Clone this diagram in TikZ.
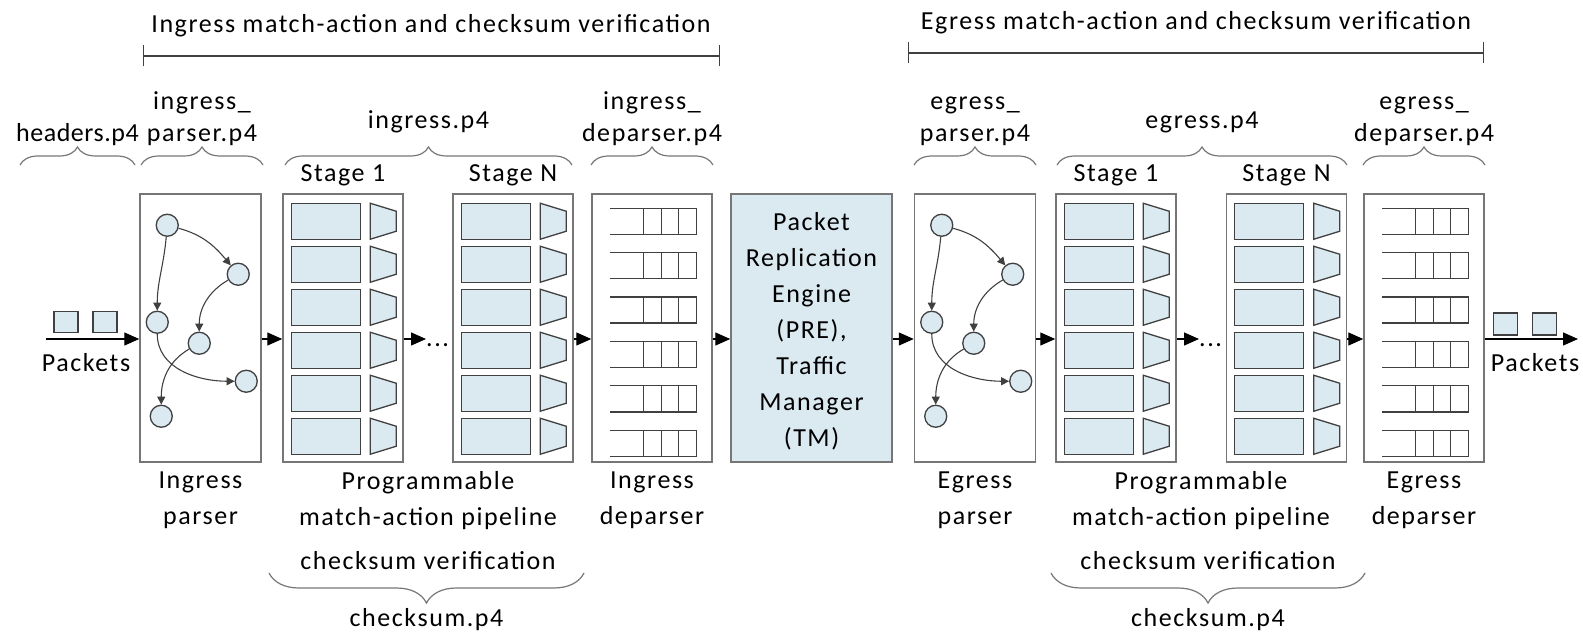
\documentclass[tikz,border=0pt]{standalone}
\usepackage{fontspec}
\setmainfont{Carlito}[LetterSpace=6]
\usetikzlibrary{positioning,arrows.meta,decorations.pathreplacing}

\definecolor{cellblue}{RGB}{219,233,241}
\definecolor{boxgray}{RGB}{118,118,118}
\definecolor{darkline}{RGB}{64,64,64}

\tikzset{
  block/.style={draw=boxgray, line width=1.5pt, minimum width=121pt, minimum height=268pt, inner sep=0pt},
  cell/.style={draw=darkline, line width=1.3pt, fill=cellblue},
  qline/.style={draw=darkline, line width=1.3pt},
  pkt/.style={cell, minimum width=24pt, minimum height=21pt, inner sep=0pt},
  pstate/.style={circle, cell, minimum size=22pt, inner sep=0pt},
  trans/.style={draw=darkline, line width=1.1pt, -{Triangle[length=8pt,width=8pt]}},
  flow/.style={line width=1.4pt, -{Triangle[length=15pt,width=13pt]}},
  pbrace/.style={draw=boxgray, line width=1.2pt, decorate, decoration={brace, amplitude=#1}},
  spanline/.style={draw=darkline, line width=1.3pt, {Bar[width=21pt]}-{Bar[width=21pt]}},
  lbl/.style={inner sep=0pt, align=center},
  toplbl/.style={lbl, font=\fontsize{26}{32}\selectfont},
}

\begin{document}
\begin{tikzpicture}[x=1pt, y=1pt, font=\fontsize{26}{36}\selectfont]
\useasboundingbox (0,0) rectangle (1583,-636);

% pipeline blocks
\node[block] (ipars) at (200.5,-328) {};
\node[block, minimum width=120pt] (istg1) at (343,-328) {};
\node[block, minimum width=120pt] (istgN) at (513,-328) {};
\node[block, minimum width=120pt] (idep) at (652,-328) {};
\node[block, fill=cellblue, minimum width=161pt, align=center] (pre) at (811.5,-328)
  {\rule{0pt}{24pt}Packet\\Replication\\Engine\\(PRE),\\Traffic\\Manager\\(TM)};
\node[block] (epars) at (975,-328) {};
\node[block, minimum width=120pt] (estg1) at (1116,-328) {};
\node[block, minimum width=120pt] (estgN) at (1286.5,-328) {};
\node[block, minimum width=120pt] (edep) at (1424,-328) {};

% match-action tables and actions
\foreach \s in {istg1,istgN,estg1,estgN}
  \foreach \r in {0,...,5}{
    \draw[cell] ([shift={(9,-10-43*\r)}]\s.north west) rectangle ++(69,-36);
    \draw[cell] ([shift={(88,-10-43*\r)}]\s.north west) -- ++(26,-8) -- ++(0,-20) -- ++(-26,-8) -- cycle;
  }

% deparser queues
\foreach \d in {idep,edep}
  \foreach \r in {0,...,5}{
    \draw[qline] ([shift={(19,-15-44.4*\r)}]\d.north west) -- ++(86,0) -- ++(0,-26) -- ++(-86,0);
    \foreach \v in {52,70,87}
      \draw[qline] ([shift={(\v,-15-44.4*\r)}]\d.north west) -- ++(0,-26);
  }

% parse graphs
\foreach \p in {ipars,epars}{
  \foreach \n/\dx/\dy in {1/28/32,2/99/81,3/18/129,4/60/150,5/107/188,6/22/223}
    \node[pstate] (\p\n) at ([shift={(\dx,-\dy)}]\p.north west) {};
  \draw[trans] (\p1) to[out=-15,in=130] (\p2);
  \draw[trans] (\p1) to[out=-95,in=90] (\p3);
  \draw[trans] (\p2) to[out=210,in=90] (\p4);
  \draw[trans] (\p3) to[out=-90,in=180] (\p5);
  \draw[trans] (\p4) to[out=210,in=90] (\p6);
}

% packets in and out
\coordinate (pin) at (46,-339);
\coordinate (pout) at (1578,-339);
\node[pkt] (pkt1) at (66,-322) {};
\node[pkt] (pkt2) at (105,-322) {};
\node[pkt, minimum height=22pt] (pkt3) at (1505.5,-324) {};
\node[pkt, minimum height=22pt] (pkt4) at (1544.5,-324) {};
\node[lbl, anchor=base] (inlbl) at (86,-372) {Packets};
\node[lbl, anchor=base] (outlbl) at (1535,-371) {Packets};

\node[lbl, anchor=base west] (idots) at (426,-347) {...};
\node[lbl, anchor=base west] (edots) at (1199,-347) {...};

% flow between blocks
\draw[flow] (pin) -- (ipars.west |- pin);
\draw[flow] (ipars.east |- pin) -- (istg1.west |- pin);
\draw[flow] (istg1.east |- pin) -- (idots.west |- pin);
\draw[flow] (istgN.east |- pin) -- (idep.west |- pin);
\draw[flow] (idep.east |- pin) -- (pre.west |- pin);
\draw[flow] (pre.east |- pin) -- (epars.west |- pin);
\draw[flow] (epars.east |- pin) -- (estg1.west |- pin);
\draw[flow] (estg1.east |- pin) -- (edots.west |- pin);
\draw[flow] (estgN.east |- pin) -- (edep.west |- pin);
\draw[flow] (edep.east |- pin) -- (pout);

% stage names
\node[lbl, above=7pt of istg1] (istg1lbl) {Stage 1};
\node[lbl, above=7pt of istgN] (istgNlbl) {Stage N};
\node[lbl, above=7pt of estg1] (estg1lbl) {Stage 1};
\node[lbl, above=7pt of estgN] (estgNlbl) {Stage N};

% source files
\draw[pbrace=18pt] (20,-165) -- (135,-165) node[toplbl, midway, above=19pt] {\addfontfeatures{LetterSpace=2}headers.p4};
\draw[pbrace=18pt] (141,-165) -- (263,-165) node[toplbl, midway, above=19pt] {ingress\_\\parser.p4};
\draw[pbrace=18pt] (285,-165) -- (572,-165) node[toplbl, midway, above=31pt] {ingress.p4};
\draw[pbrace=18pt] (591,-165) -- (713,-165) node[toplbl, midway, above=19pt] {ingress\_\\deparser.p4};
\draw[pbrace=18pt] (914,-165) -- (1036,-165) node[toplbl, midway, above=19pt] {egress\_\\parser.p4};
\draw[pbrace=18pt] (1057,-165) -- (1347,-165) node[toplbl, midway, above=31pt] {egress.p4};
\draw[pbrace=18pt] (1363,-165) -- (1485,-165) node[toplbl, midway, above=19pt] {egress\_\\deparser.p4};

% ingress / egress spans
\node[lbl, anchor=base] (ititle) at (431,-33) {Ingress match-action and checksum verification};
\draw[spanline] (143,-56) -- (720,-56);
\node[lbl, anchor=base] (etitle) at (1196,-30) {Egress match-action and checksum verification};
\draw[spanline] (908,-53) -- (1484,-53);

% block names
\coordinate (iprog) at (428,-462);
\coordinate (eprog) at (1201,-462);
\node[lbl, below=9pt of ipars] (iparslbl) {Ingress\\parser};
\node[lbl, below=9pt of iprog] (iproglbl) {Programmable\\match-action pipeline};
\node[lbl, below=9pt of idep] (ideplbl) {Ingress\\deparser};
\node[lbl, below=9pt of epars] (eparslbl) {Egress\\parser};
\node[lbl, below=9pt of eprog] (eproglbl) {Programmable\\match-action pipeline};
\node[lbl, below=9pt of edep] (edeplbl) {Egress\\deparser};

% checksum
\node[lbl, anchor=base] (icsum) at (428,-569) {checksum verification};
\draw[pbrace=30pt] (584,-573) -- (269,-573) node[lbl, midway, below=35pt] {checksum.p4};
\node[lbl, anchor=base] (ecsum) at (1208,-569) {checksum verification};
\draw[pbrace=30pt] (1365,-573) -- (1051,-573) node[lbl, midway, below=35pt] {checksum.p4};
\end{tikzpicture}
\end{document}
